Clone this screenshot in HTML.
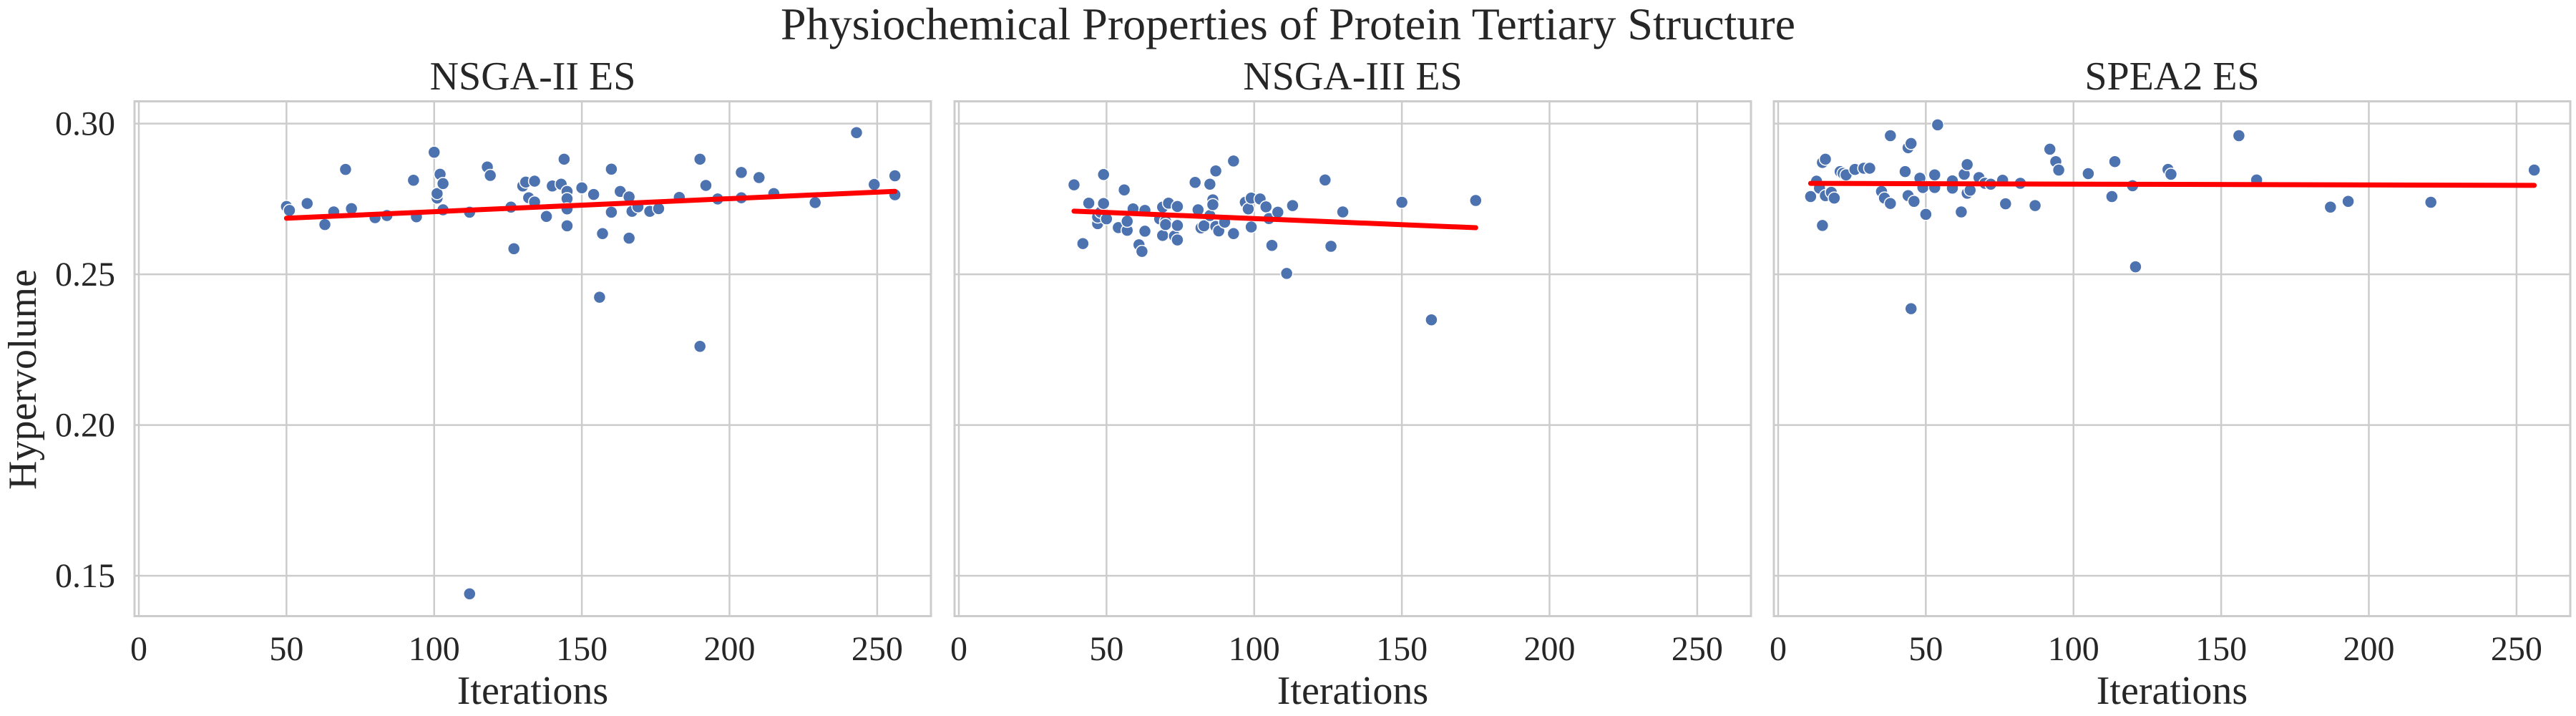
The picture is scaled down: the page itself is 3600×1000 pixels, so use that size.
<!DOCTYPE html>
<html><head><meta charset="utf-8"><style>
html,body{margin:0;padding:0;background:#fff;}
svg{display:block;font-family:"Liberation Serif",serif;}
</style></head><body>
<svg id="chart" width="3600" height="1000" viewBox="0 0 3600 1000" xmlns="http://www.w3.org/2000/svg">
<rect width="3600" height="1000" fill="#fff"/>
<text x="1800" y="55" font-size="64" text-anchor="middle" fill="#262626">Physiochemical Properties of Protein Tertiary Structure</text>
<text transform="translate(50,530) rotate(-90)" font-size="56" text-anchor="middle" fill="#262626">Hypervolume</text>
</svg>
<script>
const panelTitles = ["NSGA-II ES", "NSGA-III ES", "SPEA2 ES"];
const xTicks = [0, 50, 100, 150, 200, 250];
const yTicks = [0.15, 0.20, 0.25, 0.30];
const yTickLabels = ["0.15", "0.20", "0.25", "0.30"];
const nsga2X = [50,51,57,63,66,70,72,80,84,93,94,100,101,101,102,103,103,112,112,118,119,126,127,130,131,132,134,134,138,140,143,144,145,145,145,145,150,154,156,157,160,160,163,166,166,167,169,173,176,183,190,190,192,196,204,204,210,215,229,243,249,256,256];
const nsga2Y = [.2725,.2712,.2735,.2665,.2707,.2848,.2718,.2688,.2695,.2812,.2691,.2905,.2753,.2768,.2832,.2801,.2714,.2706,.1440,.2856,.2828,.2723,.2585,.2793,.2806,.2754,.2809,.2740,.2692,.2793,.2799,.2882,.2775,.2751,.2717,.2661,.2787,.2765,.2424,.2635,.2849,.2706,.2775,.2757,.2620,.2709,.2724,.2709,.2718,.2755,.2882,.2261,.2795,.2750,.2838,.2754,.2821,.2768,.2738,.2970,.2798,.2827,.2764];
const nsga3X = [39,42,44,47,47,48,49,49,50,54,56,57,57,59,61,62,63,63,68,69,69,70,70,71,73,74,74,74,80,81,82,83,85,85,86,86,87,87,88,90,93,93,97,98,99,99,102,104,105,106,108,111,113,124,126,130,150,160,175];
const nsga3Y = [.2797,.2602,.2736,.2668,.2690,.2706,.2831,.2735,.2684,.2655,.2780,.2646,.2676,.2717,.2598,.2576,.2712,.2643,.2684,.2723,.2629,.2676,.2665,.2736,.2627,.2725,.2662,.2614,.2805,.2714,.2654,.2661,.2695,.2799,.2747,.2731,.2659,.2843,.2644,.2673,.2876,.2635,.2739,.2717,.2657,.2753,.2750,.2724,.2685,.2596,.2706,.2503,.2728,.2813,.2593,.2707,.2739,.2349,.2745];
const spea2X = [11,13,14,15,15,16,16,18,19,21,22,23,26,29,31,35,36,38,38,43,44,44,45,45,46,48,49,50,53,53,54,59,59,62,63,64,64,65,68,70,72,76,77,82,87,92,94,95,105,113,114,120,121,132,133,156,162,187,193,221,256];
const spea2Y = [.2758,.2809,.2786,.2871,.2662,.2882,.2761,.2772,.2753,.2841,.2835,.2830,.2848,.2852,.2852,.2775,.2753,.2960,.2735,.2841,.2920,.2761,.2934,.2386,.2742,.2819,.2788,.2699,.2830,.2788,.2996,.2810,.2786,.2707,.2832,.2864,.2769,.2779,.2821,.2802,.2799,.2812,.2734,.2802,.2728,.2915,.2874,.2846,.2834,.2758,.2874,.2794,.2525,.2848,.2832,.2960,.2813,.2723,.2742,.2739,.2846];

const seriesX = [nsga2X, nsga3X, spea2X];
const seriesY = [nsga2Y, nsga3Y, spea2Y];
const NS = "http://www.w3.org/2000/svg";
const svgEl = document.getElementById('chart');
const panelLeft = [188, 1334, 2479];
const panelW = 1113, plotTop = 141.5, plotBottom = 860.5;
const xMin = -1.45, xMax = 268.2, yMin = 0.1366, yMax = 0.3074;
function mk(tag, attrs, parent){const e=document.createElementNS(NS,tag);for(const k in attrs)e.setAttribute(k,attrs[k]);(parent||svgEl).appendChild(e);return e;}

for (let p = 0; p < 3; p++) {
  const L = panelLeft[p];
  const sx = v => L + (v - xMin) / (xMax - xMin) * panelW;
  const sy = v => plotBottom - (v - yMin) / (yMax - yMin) * (plotBottom - plotTop);
  const g = mk('g', {});
  
  
  xTicks.forEach(t => {
    const l = mk('line', {x1:sx(t), x2:sx(t), y1:plotTop, y2:plotBottom, stroke:'#cccccc', 'stroke-width':2.5}, g);
    
    
    const tx = mk('text', {x:sx(t), y:922, 'font-size':48, 'text-anchor':'middle', fill:'#262626'}, g);
    
    
    tx.textContent = t;
  });
  yTicks.forEach((t, i) => {
    const l = mk('line', {x1:L, x2:L+panelW, y1:sy(t), y2:sy(t), stroke:'#cccccc', 'stroke-width':2.5}, g);
    
    
    if (p === 0) {
      const tx = mk('text', {x:161, y:sy(t)+16, 'font-size':48, 'text-anchor':'end', fill:'#262626'}, g);
      
      
      tx.textContent = yTickLabels[i];
    }
  });
  const fr = mk('rect', {x:L, y:plotTop, width:panelW, height:plotBottom-plotTop, fill:'none', stroke:'#cccccc', 'stroke-width':3}, g);
  
  
  const tt = mk('text', {x:L+panelW/2, y:125, 'font-size':56, 'text-anchor':'middle', fill:'#262626'}, g);
  
  
  tt.textContent = panelTitles[p];
  const xl = mk('text', {x:L+panelW/2, y:983, 'font-size':56, 'text-anchor':'middle', fill:'#262626'}, g);
  
  
  xl.textContent = 'Iterations';
  const X = seriesX[p], Y = seriesY[p];
  for (let i = 0; i < X.length; i++) {
    const c = mk('circle', {cx:sx(X[i]), cy:sy(Y[i]), r:8.5, fill:'#4c72b0', stroke:'#ffffff', 'stroke-width':1.5}, g);
    
    
  }
  const n = X.length;
  const mx = X.reduce((a,b)=>a+b,0)/n, my = Y.reduce((a,b)=>a+b,0)/n;
  let sxy = 0, sxx = 0;
  for (let i = 0; i < n; i++) { sxy += (X[i]-mx)*(Y[i]-my); sxx += (X[i]-mx)**2; }
  const b = sxy/sxx, a = my - b*mx;
  const x0 = Math.min(...X), x1 = Math.max(...X);
  const rl = mk('line', {x1:sx(x0), y1:sy(a+b*x0), x2:sx(x1), y2:sy(a+b*x1), stroke:'#ff0000', 'stroke-width':7, 'stroke-linecap':'round'}, g);
  
  
}
</script>
</body></html>
